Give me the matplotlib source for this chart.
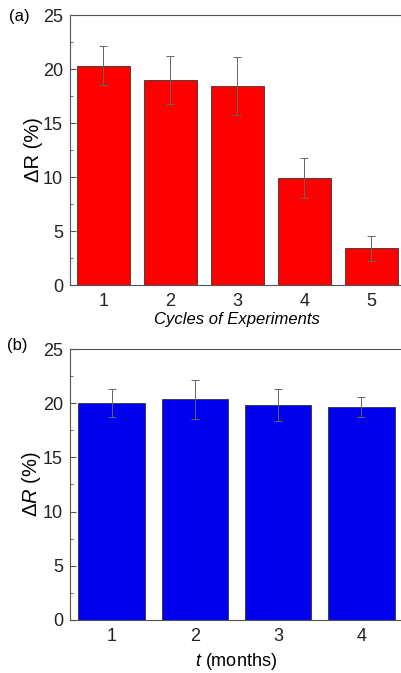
import matplotlib.pyplot as plt
from matplotlib.ticker import MultipleLocator

plt.rcParams['font.family'] = ['Liberation Sans', 'DejaVu Sans']
plt.rcParams['mathtext.fontset'] = 'custom'
plt.rcParams['mathtext.it'] = 'Liberation Sans:italic'
plt.rcParams['mathtext.rm'] = 'Liberation Sans'

# (a) cycles of experiments
cycles = [1, 2, 3, 4, 5]
dr_cycles = [20.3, 19.0, 18.4, 9.9, 3.4]
err_cycles = [1.8, 2.2, 2.7, 1.85, 1.15]

# (b) storage time
months = [1, 2, 3, 4]
dr_months = [20.0, 20.35, 19.85, 19.65]
err_months = [1.3, 1.8, 1.5, 0.9]


def style_axes(ax, n):
    ax.set_xlim(0.5, n + 0.5)
    ax.set_ylim(0, 25)
    ax.set_xticks(range(1, n + 1))
    ax.yaxis.set_major_locator(MultipleLocator(5))
    ax.yaxis.set_minor_locator(MultipleLocator(2.5))
    ax.xaxis.set_minor_locator(MultipleLocator(0.5))
    ax.tick_params(which='both', direction='in', colors='#555555',
                   labelcolor='#222222', labelsize=13)
    ax.tick_params(which='major', length=4)
    ax.tick_params(which='minor', length=2)
    ax.tick_params(axis='y', pad=5)
    ax.tick_params(axis='x', which='both', length=0, pad=6)
    for s in ax.spines.values():
        s.set_color('#555555')
        s.set_linewidth(0.8)


fig = plt.figure(figsize=(4.01, 6.73), dpi=100)

ax1 = fig.add_axes([0.1746, 0.5765, 0.835, 0.4012])
ax1.bar(cycles, dr_cycles, width=0.8, color='#ff0000', edgecolor='#333333',
        linewidth=0.6, yerr=err_cycles, ecolor='#666666',
        error_kw=dict(elinewidth=0.7, capsize=3, capthick=0.7))
style_axes(ax1, len(cycles))
ax1.set_ylabel('ΔR (%)', fontsize=14.5, labelpad=0)
ax1.set_xlabel('Cycles of Experiments', fontsize=12, style='italic', labelpad=1)
fig.text(0.022, 0.976, '(a)', fontsize=12, ha='left', va='center')

ax2 = fig.add_axes([0.1746, 0.0788, 0.83, 0.4026])
ax2.bar(months, dr_months, width=0.8, color='#0000ee', edgecolor='#333333',
        linewidth=0.6, yerr=err_months, ecolor='#666666',
        error_kw=dict(elinewidth=0.7, capsize=3, capthick=0.7))
style_axes(ax2, len(months))
ax2.set_ylabel(r'Δ$\it{R}$ (%)', fontsize=14.5, labelpad=0)
ax2.set_xlabel(r'$\it{t}$ (months)', fontsize=13, labelpad=4)
fig.text(0.018, 0.487, '(b)', fontsize=12, ha='left', va='center')

fig.savefig('out.png', dpi=100, facecolor='white')
